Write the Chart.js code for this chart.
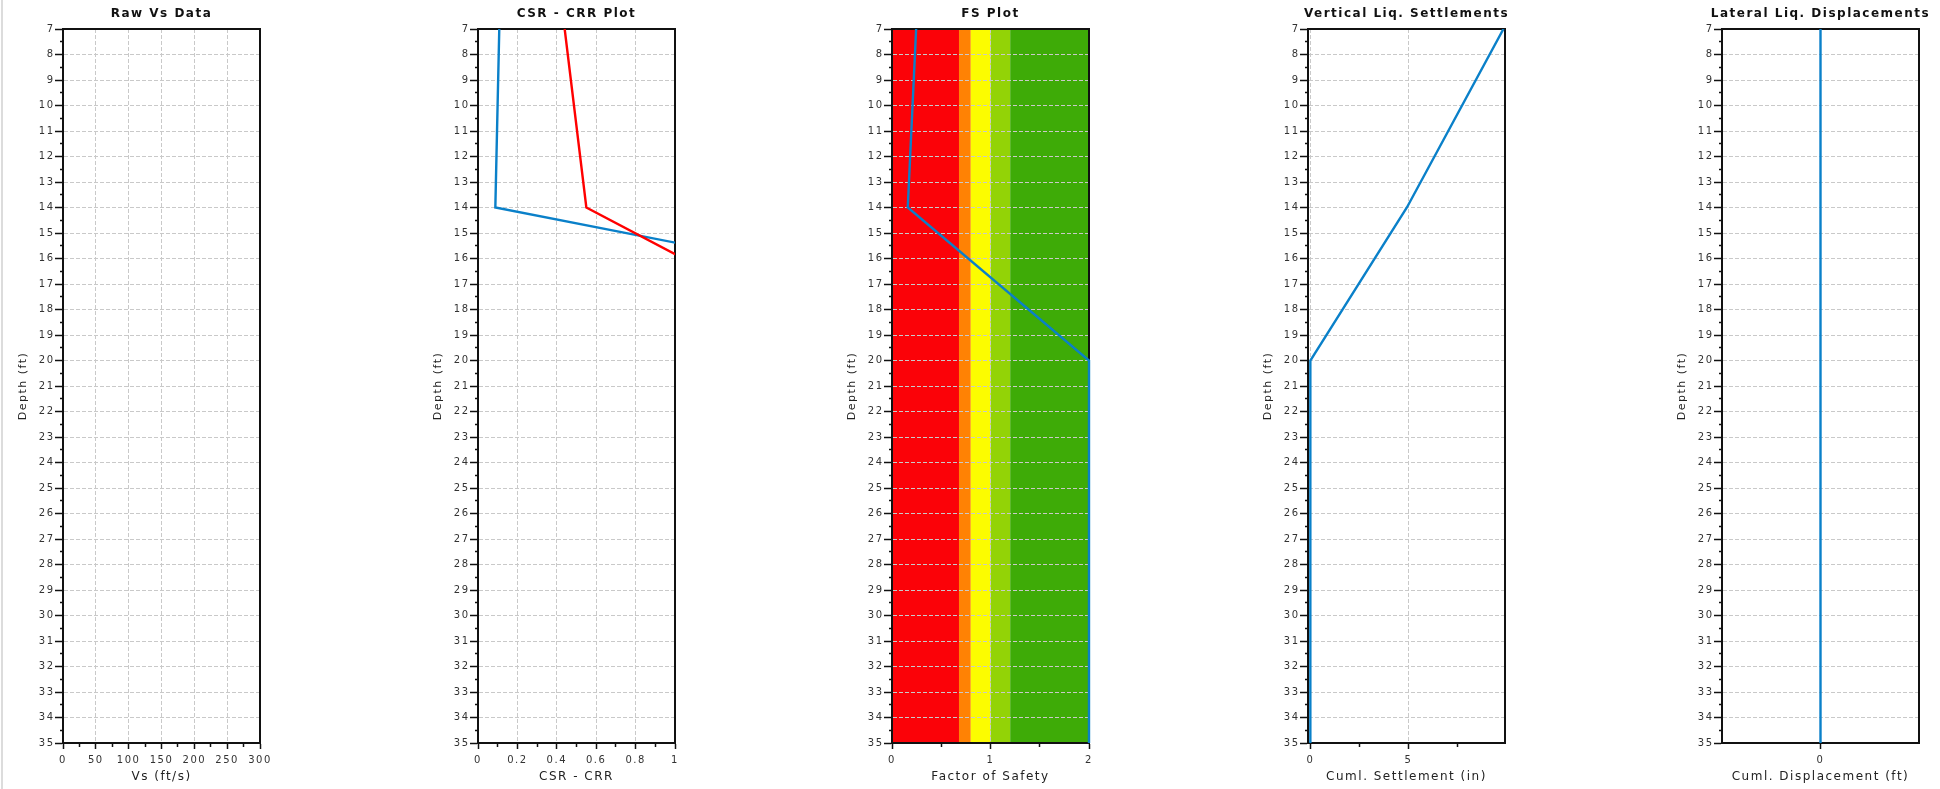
<!DOCTYPE html>
<html>
<head>
<meta charset="utf-8">
<script src="https://cdn.jsdelivr.net/npm/chart.js@4.4.0/dist/chart.umd.min.js"></script>
<style>
  html, body { margin: 0; padding: 0; background: #fff; overflow: hidden; }
  body { width: 1940px; height: 789px; position: relative; }
  .panel { position: absolute; top: 0; width: 323px; height: 789px; }
  #edge { position: absolute; left: 1px; top: 0; width: 2px; height: 789px; background: #dcdcdc; }
</style>
</head>
<body>
<div id="edge"></div>
<div class="panel" style="left:0px"><canvas id="chartVs"></canvas></div>
<div class="panel" style="left:415px"><canvas id="chartCsr"></canvas></div>
<div class="panel" style="left:829px"><canvas id="chartFs"></canvas></div>
<div class="panel" style="left:1245px"><canvas id="chartSettle"></canvas></div>
<div class="panel" style="left:1659px"><canvas id="chartLat"></canvas></div>
<script>
// depth range (ft), shared by all panels
var depthMin = 7, depthMax = 35;

// CSR - CRR plot
var csrDepth = [7, 14, 20];
var csrValues = [0.44, 0.55, 2.03];
var crrValues = [0.108, 0.088, 4.06];

// factor of safety
var fsDepth = [7, 14, 20, 35];
var fsValues = [0.245, 0.16, 2, 2];
var fsBandEdges = [0, 0.68, 0.8, 1.0, 1.2, 2];
var fsBandColors = ['#fb0208', '#ff8204', '#fcfc00', '#93d306', '#3eab07'];

// vertical settlements (in)
var settleDepth = [7, 14, 20, 35];
var settleValues = [9.84, 4.92, 0, 0];

// lateral displacements (ft)
var latDepth = [7, 35];
var latValues = [0, 0];

// x tick labels (major) and unlabeled minor ticks
var vsMajor = [0, 50, 100, 150, 200, 250, 300];
var vsMinor = [25, 75, 125, 175, 225, 275];
var csrMajor = [0, 0.2, 0.4, 0.6, 0.8, 1];
var csrMinor = [0.1, 0.3, 0.5, 0.7, 0.9];
var fsMajor = [0, 1, 2];
var fsMinor = [0.5, 1.5];
var settleMajor = [0, 5];
var settleMinor = [2.5, 7.5];
var latMajor = [0];
var latMinor = [];

var FONT = "'DejaVu Sans', sans-serif";
var BLUE = '#0a80c9';
var RED = '#ff0000';
var GRID = '#c9c9c9';
var AXIS = '#111';

Chart.register({
  id: 'spacing',
  beforeDraw: function (chart) { chart.ctx.letterSpacing = '1.5px'; }
});

function pts(xs, ys) {
  return xs.map(function (x, i) { return { x: x, y: ys[i] }; });
}

function isWhole(v) { return Math.abs(v - Math.round(v)) < 1e-6; }

function depthAxis() {
  return {
    type: 'linear', position: 'left', reverse: true, min: depthMin, max: depthMax,
    afterFit: function (s) { s.width = 63; },
    ticks: {
      stepSize: 0.5, autoSkip: false, padding: 0.5, color: '#333',
      font: { family: FONT, size: 10 },
      callback: function (v) { return isWhole(v) ? String(v) : ''; }
    },
    grid: {
      color: function (c) { return c.tick && isWhole(c.tick.value) ? GRID : 'transparent'; },
      tickColor: AXIS, tickLength: 8, tickWidth: 1.5,
      tickBorderDash: function (c) { return c.tick && isWhole(c.tick.value) ? [] : [0, 5, 10]; }
    },
    border: { color: AXIS, width: 2, dash: [4, 2] },
    title: { display: true, text: 'Depth (ft)', color: '#222', font: { family: FONT, size: 11 }, padding: { top: 16.4, bottom: 0 } }
  };
}

function frameY() {
  return {
    type: 'linear', position: 'right', reverse: true, min: depthMin, max: depthMax,
    afterFit: function (s) { s.width = 63; },
    ticks: { display: false },
    grid: { drawOnChartArea: false, drawTicks: false },
    border: { color: AXIS, width: 2 }
  };
}

function frameX(min, max) {
  return {
    type: 'linear', position: 'top', min: min, max: max,
    afterFit: function (s) { s.height = 0; },
    ticks: { display: false },
    grid: { drawOnChartArea: false, drawTicks: false },
    border: { color: AXIS, width: 2 }
  };
}

function valueAxis(min, max, major, minor, title) {
  return {
    type: 'linear', position: 'bottom', min: min, max: max,
    afterBuildTicks: function (s) {
      s.ticks = major.concat(minor).sort(function (a, b) { return a - b; })
        .map(function (v) { return { value: v }; });
    },
    afterFit: function (s) { s.height = 46; },
    ticks: {
      autoSkip: false, maxRotation: 0, padding: 5, color: '#333',
      font: { family: FONT, size: 10 },
      callback: function (v) { return major.indexOf(v) >= 0 ? String(v) : ''; }
    },
    grid: {
      color: function (c) { return c.tick && major.indexOf(c.tick.value) >= 0 ? GRID : 'transparent'; },
      tickColor: AXIS, tickLength: 6, tickWidth: 1.5,
      tickBorderDash: function (c) { return c.tick && major.indexOf(c.tick.value) >= 0 ? [] : [3, 20]; }
    },
    border: { color: AXIS, width: 2, dash: [4, 2] },
    title: { display: true, text: title, color: '#222', font: { family: FONT, size: 12 }, padding: { top: 0, bottom: 4.8 } }
  };
}

function line(data, color, clip) {
  var ds = {
    data: data, showLine: true, borderColor: color, backgroundColor: color,
    borderWidth: 2.4, pointRadius: 0, fill: false, tension: 0
  };
  if (clip !== undefined) ds.clip = clip;
  return ds;
}

function makeChart(id, title, datasets, xAxis, extraPlugins) {
  return new Chart(document.getElementById(id), {
    type: 'scatter',
    data: { datasets: datasets },
    options: {
      responsive: true, maintainAspectRatio: false, animation: false,
      layout: { padding: 0 },
      plugins: {
        legend: { display: false },
        tooltip: { enabled: false },
        title: {
          display: true, text: title, color: '#111',
          font: { family: FONT, size: 12, weight: 'bold' },
          padding: { top: 6.8, bottom: 7.8 }
        }
      },
      scales: {
        x: xAxis,
        y: depthAxis(),
        x2: frameX(xAxis.min, xAxis.max),
        y2: frameY()
      }
    },
    plugins: extraPlugins || []
  });
}

// colored FS zones behind the grid
var fsBands = {
  id: 'fsBands',
  beforeDraw: function (chart) {
    var xs = chart.scales.x, a = chart.chartArea, ctx = chart.ctx;
    ctx.save();
    for (var i = 0; i < fsBandColors.length; i++) {
      var x0 = xs.getPixelForValue(fsBandEdges[i]);
      var x1 = xs.getPixelForValue(fsBandEdges[i + 1]);
      ctx.fillStyle = fsBandColors[i];
      ctx.fillRect(x0, a.top, x1 - x0, a.bottom - a.top);
    }
    ctx.restore();
  }
};

makeChart('chartVs', 'Raw Vs Data', [],
  valueAxis(0, 300, vsMajor, vsMinor, 'Vs (ft/s)'));

makeChart('chartCsr', 'CSR - CRR Plot', [
  line(pts(csrValues, csrDepth), RED),
  line(pts(crrValues, csrDepth), BLUE)
], valueAxis(0, 1, csrMajor, csrMinor, 'CSR - CRR'));

makeChart('chartFs', 'FS Plot', [
  line(pts(fsValues, fsDepth), BLUE, 3)
], valueAxis(0, 2, fsMajor, fsMinor, 'Factor of Safety'), [fsBands]);

makeChart('chartSettle', 'Vertical Liq. Settlements', [
  line(pts(settleValues, settleDepth), BLUE)
], valueAxis(-0.12, 9.92, settleMajor, settleMinor, 'Cuml. Settlement (in)'));

makeChart('chartLat', 'Lateral Liq. Displacements', [
  line(pts(latValues, latDepth), BLUE)
], valueAxis(-1, 1, latMajor, latMinor, 'Cuml. Displacement (ft)'));
</script>
</body>
</html>
